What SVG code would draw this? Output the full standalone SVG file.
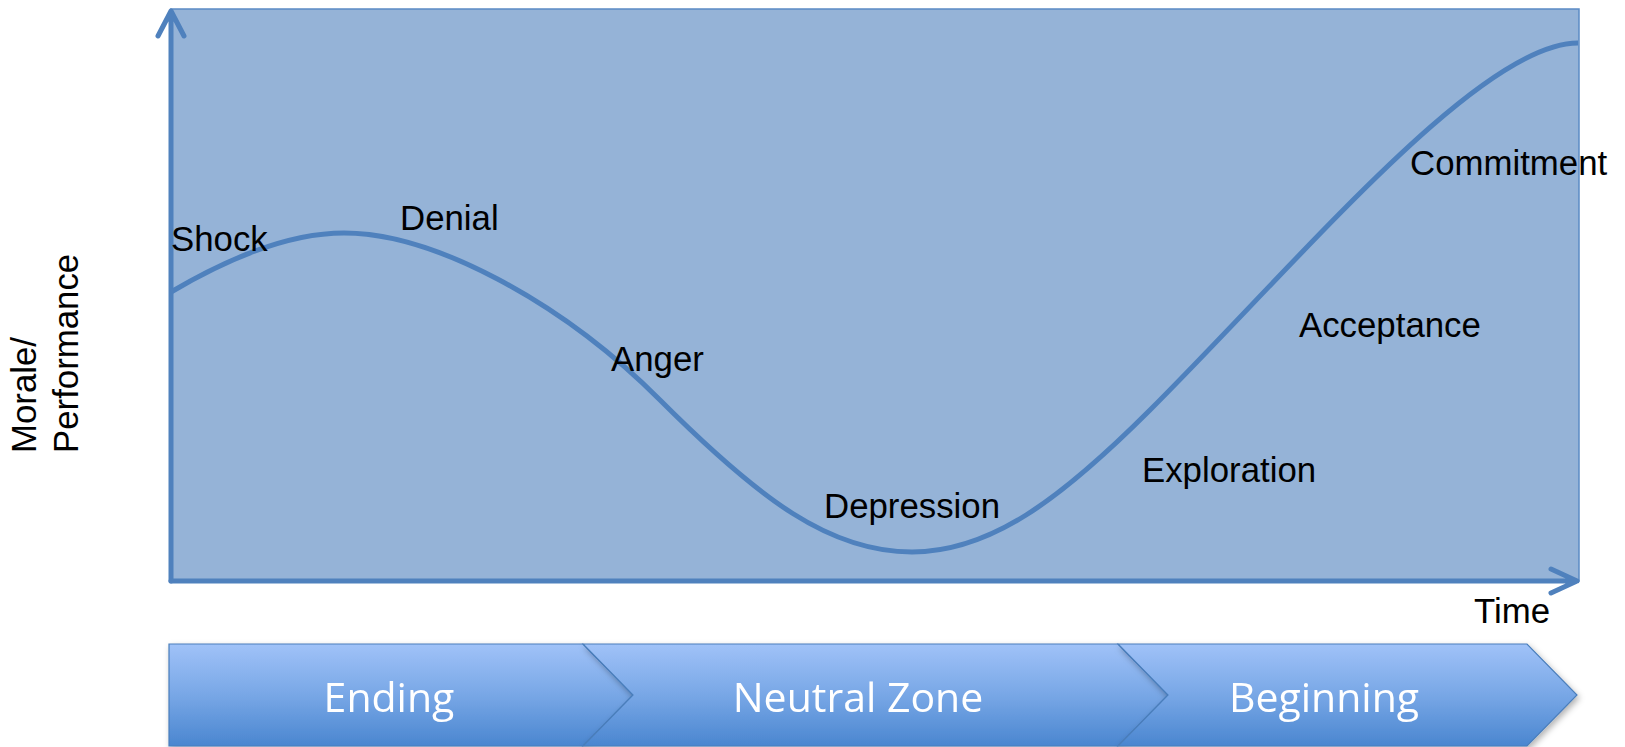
<svg xmlns="http://www.w3.org/2000/svg" width="1625" height="747" viewBox="0 0 1625 747">
<style>
.lbl{font-family:"Liberation Sans",Arial,sans-serif;font-size:34.8px;fill:#000}
.ax{fill:none;stroke:#4f81bd;stroke-width:5;stroke-linecap:round;stroke-linejoin:round}
.chev{stroke:#4a7ebb;stroke-width:1.2;fill:url(#g)}
.ct{font-family:"Open Sans","Noto Sans",sans-serif;font-size:41px;fill:#fff;text-anchor:middle}
</style>
<defs>
<linearGradient id="g" x1="0" y1="0" x2="0" y2="1">
<stop offset="0" stop-color="#a0c2f8"/>
<stop offset="0.5" stop-color="#78a7e6"/>
<stop offset="1" stop-color="#4a86d0"/>
</linearGradient>
<filter id="sh" x="-5%" y="-5%" width="110%" height="115%">
<feDropShadow dx="2" dy="3" stdDeviation="3" flood-color="#000" flood-opacity="0.3"/>
</filter>
</defs>
<g id="chart">
<rect x="171" y="9" width="1408" height="572" fill="#95b3d7" stroke="#5b8bc5" stroke-width="1.5"/>
</g>
<g id="connectors">
<path class="ax" d="M171,581 L171,11 M158,36 L171,11 L184,36"/>
<path class="ax" d="M171,581 L1577,581 M1551,569 L1577,581 L1551,593"/>
<path id="curve" fill="none" stroke="#4f81bd" stroke-width="5" d="M171,292 C232,256 292,233 344,233 C432,233 560,300 660,400 C760,500 830,552 912,552 C990,552 1060,500 1150,410 C1300,260 1480,43 1578,43"/>
</g>
<g id="labels">
<text class="lbl" x="171" y="251">Shock</text>
<text class="lbl" x="400" y="230">Denial</text>
<text class="lbl" x="611" y="371">Anger</text>
<text class="lbl" x="824" y="518">Depression</text>
<text class="lbl" x="1142" y="482">Exploration</text>
<text class="lbl" x="1299" y="337">Acceptance</text>
<text class="lbl" x="1410" y="175">Commitment</text>
<text class="lbl" x="1474" y="623">Time</text>
<text class="lbl" transform="translate(36,453) rotate(-90)">Morale/</text>
<text class="lbl" transform="translate(78,453) rotate(-90)">Performance</text>
</g>
<g id="ending" filter="url(#sh)">
<path class="chev" d="M169,644 L583,644 L633,695 L583,746 L169,746 Z"/>
<text class="ct" x="389" y="712">Ending</text>
</g>
<g id="neutral" filter="url(#sh)">
<path class="chev" d="M583,644 L1118,644 L1168,695 L1118,746 L583,746 L633,695 Z"/>
<text class="ct" x="858" y="712">Neutral Zone</text>
</g>
<g id="beginning" filter="url(#sh)">
<path class="chev" d="M1118,644 L1527,644 L1577,695 L1527,746 L1118,746 L1168,695 Z"/>
<text class="ct" x="1324" y="712">Beginning</text>
</g>
</svg>
